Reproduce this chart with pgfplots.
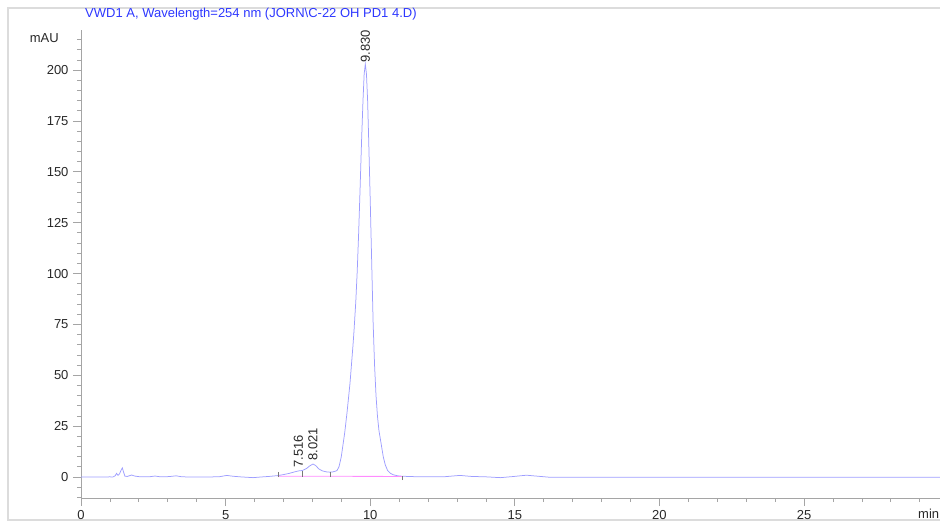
\documentclass[border=0pt]{standalone}
\usepackage{fontspec}
\setmainfont{Liberation Sans}
\usepackage{pgfplots}
\pgfplotsset{compat=1.18}
\definecolor{trace}{RGB}{158,158,255}
\definecolor{basel}{RGB}{255,140,255}
\definecolor{ttl}{RGB}{45,55,255}
\definecolor{axgray}{RGB}{165,165,165}
\definecolor{txt}{RGB}{40,40,40}
\definecolor{framec}{RGB}{220,220,220}
\definecolor{evt}{RGB}{120,120,120}

\begin{document}
\fontsize{13bp}{15bp}\selectfont
\begin{tikzpicture}
% outer frame of the report panel
\draw[framec, line width=1.2bp] (8bp,3bp) rectangle (980bp,515bp);
\begin{axis}[
  at={(81bp,25bp)}, anchor=south west,
  scale only axis, width=859bp, height=468bp,
  xmin=0, xmax=29.7, ymin=-10.3, ymax=219.7,
  axis x line=bottom, axis y line=left,
  axis line style={-, draw=axgray, line width=0.8bp},
  xtick={0,5,...,25}, minor xtick={1,2,3,4,6,7,8,9,11,12,13,14,16,17,18,19,21,22,23,24,26,27,28,29},
  ytick={0,25,...,200},
  minor ytick={-10,-5,5,10,15,20,30,35,40,45,55,60,65,70,80,85,90,95,105,110,115,120,130,135,140,145,155,160,165,170,180,185,190,195,205,210,215},
  tick align=outside,
  major tick length=8bp, minor tick length=4bp,
  every tick/.style={axgray, line width=0.8bp},
  tick label style={font=\fontsize{13bp}{15bp}\selectfont, text=txt},
  /pgf/number format/assume math mode=true,
  clip=false,
]
% detector trace
\addplot[trace, line width=0.75bp] coordinates {
(0.0,0.0) (0.5,0.0) (0.9,0.05) (1.0,0.1) (1.1,0.0) (1.18,0.6) (1.23,1.8)
(1.28,0.8) (1.33,1.5) (1.39,3.5) (1.43,4.5) (1.47,2.5) (1.52,0.4) (1.6,0.3)
(1.75,1.0) (1.85,0.5) (2.0,0.2) (2.2,0.1) (2.4,0.2) (2.56,0.5) (2.7,0.2)
(2.9,0.1) (3.1,0.3) (3.29,0.6) (3.45,0.2) (3.7,0.0) (4.0,0.0) (4.4,0.0)
(4.8,0.2) (5.04,0.8) (5.25,0.4) (5.5,0.1) (5.95,-0.3) (6.2,0.0) (6.5,0.3)
(6.8,0.7) (7.0,1.2) (7.2,1.8) (7.4,2.6) (7.516,3.0) (7.65,3.2) (7.8,4.2)
(7.9,5.4) (8.021,6.4) (8.12,5.6) (8.22,4.0) (8.35,3.0) (8.5,2.5) (8.6,2.4)
(8.7,2.5) (8.8,2.9) (8.85,3.2) (8.92,5) (9.0,10) (9.06,16) (9.12,22)
(9.2,32) (9.3,46) (9.4,64) (9.44,72) (9.5,86) (9.55,101) (9.6,120)
(9.65,142) (9.7,165) (9.75,185) (9.79,198) (9.83,203) (9.87,198) (9.91,185)
(9.95,164) (10.0,136) (10.05,106) (10.1,76) (10.15,55) (10.2,40) (10.25,30)
(10.3,23) (10.37,17) (10.45,10) (10.52,6) (10.6,3.2) (10.7,1.8) (10.8,1.1)
(10.95,0.6) (11.1,0.4) (11.5,0.2) (12.0,0.1) (12.6,0.2) (13.1,0.8) (13.5,0.3)
(14.0,0.1) (14.5,-0.3) (14.9,0.2) (15.4,0.9) (15.8,0.4) (16.2,-0.1) (17.0,-0.1)
(20.0,-0.1) (25.0,-0.1) (29.7,-0.1)
};
% integration baseline
\addplot[basel, line width=0.8bp] coordinates {(6.81,0.4) (11.1,0.3)};
% integration event marks
\addplot[evt, line width=0.6bp] coordinates {(6.81,-0.1) (6.81,2.6)};
\addplot[evt, line width=0.6bp] coordinates {(7.64,0.1) (7.64,3.1)};
\addplot[evt, line width=0.6bp] coordinates {(8.61,-0.1) (8.61,2.6)};
\addplot[evt, line width=0.6bp] coordinates {(11.1,-1.5) (11.1,0.5)};
% retention time labels
\node[rotate=90, anchor=west, inner sep=0, text=txt, xshift=3bp] at (axis cs:7.516,3.0) {7.516};
\node[rotate=90, anchor=west, inner sep=0, text=txt, xshift=3bp] at (axis cs:8.021,6.4) {8.021};
\node[rotate=90, anchor=west, inner sep=0, text=txt, xshift=1bp] at (axis cs:9.830,203) {9.830};
\end{axis}
\node[anchor=west, inner sep=0, text=ttl] at (85bp,509bp) {VWD1 A, Wavelength=254 nm (JORN\textbackslash C-22 OH PD1 4.D)};
\node[anchor=east, inner sep=0, text=txt] at (59bp,485bp) {mAU};
\node[anchor=base west, inner sep=0, text=txt] at (918bp,5bp) {min};
\pgfresetboundingbox
\path[use as bounding box] (0,0) rectangle (940bp,523bp);
\end{tikzpicture}
\end{document}
